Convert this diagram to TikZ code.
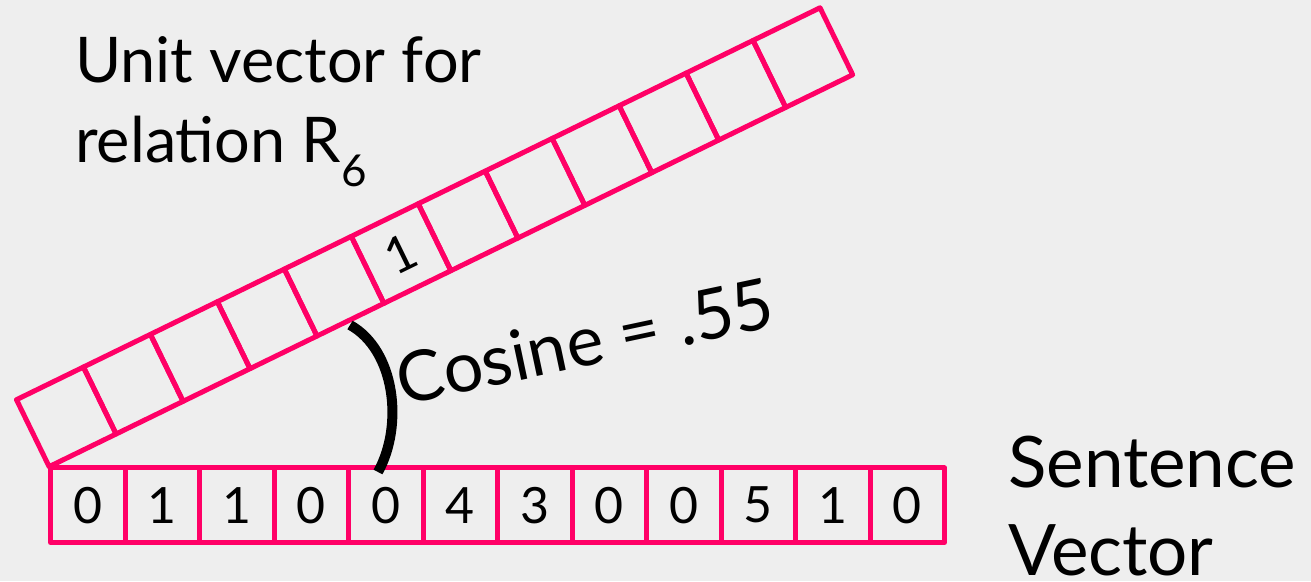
\documentclass[tikz,border=0pt]{standalone}
\usepackage{fontspec}
\setmainfont{Lato}
\definecolor{pinkc}{HTML}{FF0066}
\definecolor{bgc}{HTML}{EEEEEE}
\begin{document}
\begin{tikzpicture}[x=1pt,y=1pt,
  cellbox/.style={draw=pinkc, line width=5pt, line join=round, minimum width=74.5pt, minimum height=74.5pt, inner sep=0pt, anchor=south west, font=\fontsize{50}{50}\selectfont},
  label/.style={font=\fontsize{63}{63}\selectfont, inner sep=0pt, anchor=base west},
  biglabel/.style={font=\fontsize{71}{71}\selectfont, inner sep=0pt, anchor=base west},
  arcline/.style={line width=10pt}]
\fill[bgc] (0,0) rectangle (1311,581);
\useasboundingbox (0,0) rectangle (1311,581);
% sentence vector
\foreach \v [count=\i from 0] in {0,1,1,0,0,4,3,0,0,5,1,0}{
  \node[cellbox] (s\i) at (48+74.5*\i,36) {\v};
}
% unit vector
\begin{scope}[shift={(48,111)}, rotate=26]
\foreach \i in {0,...,11}{
  \node[cellbox, rotate=26] (u\i) at (74.5*\i,0) {\ifnum\i=5 1\fi};
}
\end{scope}
% arc
\coordinate (at) at (350,256);
\coordinate (ab) at (378,109);
\draw[arcline] (at) .. controls (395,231) and (404,156) .. (ab);
% labels
\node[label] (t1) at (75,498) {Unit vector for};
\node[label] (t2) at (75,418) {relation R\raisebox{-24pt}{\fontsize{44}{44}\selectfont 6}};
\node[biglabel] (t3) at (1008,94) {Sentence};
\node[biglabel] (t4) at (1008,6) {Vector};
\node[font=\fontsize{70}{70}\selectfont, rotate=12, inner sep=0pt] (cos) at (585,240) {Cosine = .55};
\end{tikzpicture}
\end{document}
